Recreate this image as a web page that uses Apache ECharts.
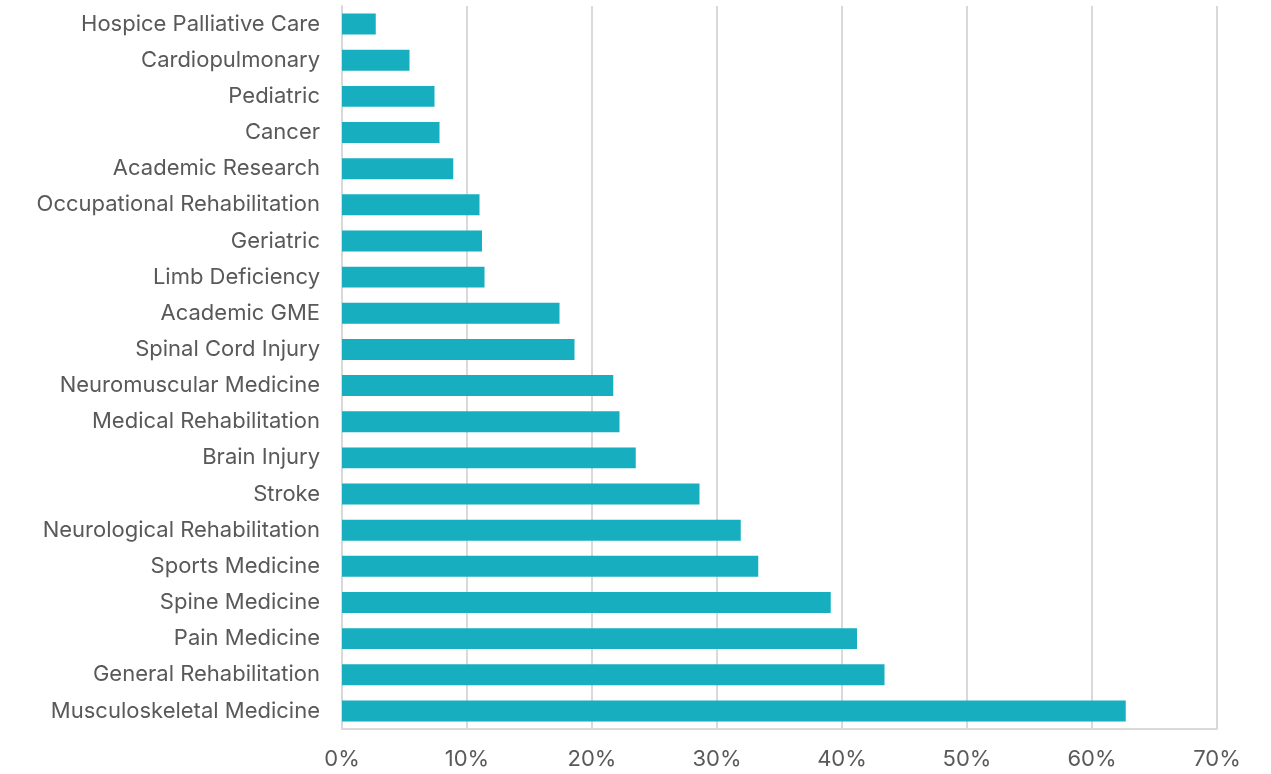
<!DOCTYPE html>
<html><head><meta charset="utf-8">
<script src="https://cdn.jsdelivr.net/npm/echarts@6/dist/echarts.min.js"></script>
<style>html,body{margin:0;padding:0;background:#fff}#c{width:1271px;height:774px}</style>
</head><body><div id="c"></div>
<script>
const categories = ["Musculoskeletal Medicine","General Rehabilitation","Pain Medicine","Spine Medicine","Sports Medicine","Neurological Rehabilitation","Stroke","Brain Injury","Medical Rehabilitation","Neuromuscular Medicine","Spinal Cord Injury","Academic GME","Limb Deficiency","Geriatric","Occupational Rehabilitation","Academic Research","Cancer","Pediatric","Cardiopulmonary","Hospice Palliative Care"];
const values = [62.7,43.4,41.2,39.1,33.3,31.9,28.6,23.5,22.2,21.7,18.6,17.4,11.4,11.2,11.0,8.9,7.8,7.4,5.4,2.7];
const xTicks = [0,10,20,30,40,50,60,70];
const chart = echarts.init(document.getElementById('c'));
chart.setOption({
  animation:false,
  grid:{left:342,right:54,top:6,bottom:45,containLabel:false},
  xAxis:{type:'value',min:0,max:70,interval:10,
    axisLine:{show:true,lineStyle:{color:'#d9d9d9',width:2}},axisTick:{show:false},
    splitLine:{lineStyle:{color:'#d9d9d9',width:2}},
    axisLabel:{formatter:v=>v+'%',color:'#595959',fontSize:22,fontFamily:'Inter',margin:19}},
  yAxis:{type:'category',data:categories,
    axisLine:{show:true,lineStyle:{color:'#d9d9d9',width:2}},axisTick:{show:false},
    axisLabel:{color:'#595959',fontSize:22,fontFamily:'Inter',margin:22}},
  series:[{type:'bar',data:values,barWidth:'58%',itemStyle:{color:'#17aebf'}}]
});
</script></body></html>
